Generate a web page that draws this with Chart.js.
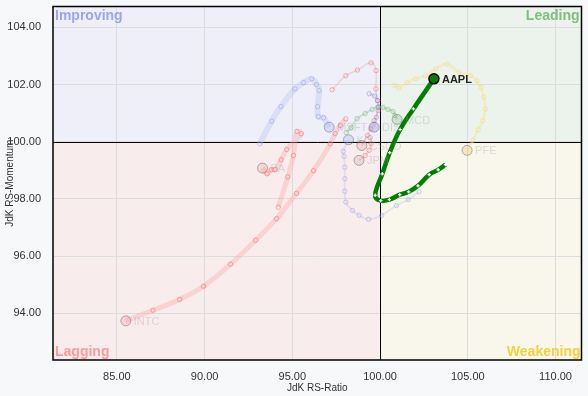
<!DOCTYPE html>
<html>
<head>
<meta charset="utf-8">
<script src="https://cdn.jsdelivr.net/npm/chart.js@4"></script>
<style>
  html, body { margin: 0; padding: 0; background: #f7f8fa; }
  #wrap { width: 588px; height: 396px; }
</style>
</head>
<body>
<div id="wrap"><canvas id="rrg" width="588" height="396"></canvas></div>
<script>
// tails, oldest point first, newest (head) last
const aaplRatio = [103.73, 103.31, 102.80, 102.16, 101.63, 101.12, 100.53, 100.04, 99.72, 100.13, 100.55, 101.14, 101.90, 103.07];
const aaplMomentum = [99.20, 99.02, 98.85, 98.46, 98.25, 98.15, 97.98, 97.94, 98.13, 98.88, 99.62, 100.43, 101.15, 102.20];

const intcRatio = [98.05, 97.73, 97.44, 97.16, 96.21, 95.24, 94.10, 92.91, 91.48, 89.94, 88.58, 87.06, 85.51];
const intcMomentum = [100.80, 100.57, 100.29, 99.93, 98.99, 98.20, 97.31, 96.56, 95.72, 94.95, 94.49, 94.11, 93.74];

const baRatio = [94.20, 94.74, 95.06, 95.26, 95.51, 94.68, 94.36, 94.03, 93.79, 93.56, 93.30];
const baMomentum = [97.71, 98.77, 99.52, 100.36, 100.28, 99.73, 99.37, 99.03, 99.02, 98.88, 99.08];

const msftRatio = [93.14, 93.82, 94.35, 95.15, 95.64, 96.10, 96.38, 96.53, 96.44, 96.48, 96.78, 97.10];
const msftMomentum = [99.93, 100.72, 101.23, 101.85, 102.07, 102.20, 102.00, 101.79, 101.23, 100.88, 100.84, 100.51];

const koRatio = [102.22, 101.61, 100.93, 100.09, 99.34, 98.81, 98.43, 98.05, 97.99, 97.99, 97.99, 97.95, 97.90, 98.20];
const koMomentum = [98.25, 97.98, 97.77, 97.43, 97.29, 97.43, 97.60, 97.89, 98.27, 98.71, 99.11, 99.49, 99.67, 100.07];

const disRatio = [99.38, 99.69, 99.85, 99.89, 99.79, 99.66];
const disMomentum = [101.68, 101.60, 101.44, 101.20, 100.86, 100.51];

const mcdRatio = [98.07, 98.35, 98.69, 99.15, 99.55, 99.89, 100.17, 100.45, 100.74, 100.85, 100.97];
const mcdMomentum = [100.32, 100.50, 100.81, 100.99, 101.13, 101.23, 101.20, 101.13, 101.06, 100.92, 100.78];

const cscoRatio = [97.27, 98.05, 98.71, 99.49, 99.77, 99.76, 99.86, 99.89, 99.66, 99.47, 99.28, 98.96];
const cscoMomentum = [101.82, 102.31, 102.51, 102.76, 102.49, 101.85, 101.44, 101.09, 100.74, 100.45, 100.22, 99.87];

const jpmRatio = [99.43, 99.49, 99.38, 99.15, 98.80];
const jpmMomentum = [100.15, 99.94, 99.70, 99.52, 99.35];

const pfeRatio = [100.80, 101.08, 101.53, 102.03, 102.60, 103.18, 103.82, 104.49, 105.15, 105.51, 105.74, 105.91, 106.00, 105.85, 105.59, 105.28, 104.96];
const pfeMomentum = [101.97, 101.88, 102.07, 102.20, 102.31, 102.56, 102.72, 102.43, 102.31, 102.14, 101.90, 101.56, 101.15, 100.74, 100.42, 100.05, 99.70];

const xTicks = [85, 90, 95, 100, 105, 110];
const yTicks = [94, 96, 98, 100, 102, 104];

const FONT = "'Liberation Sans', Arial, sans-serif";

function toPoints(xs, ys) {
  return xs.map((x, i) => ({ x: x, y: ys[i] }));
}

function fadedSeries(name, xs, ys, line, point, fill, width) {
  const last = xs.length - 1;
  return {
    label: name,
    data: toPoints(xs, ys),
    showLine: true,
    tension: 0.4,
    borderColor: line,
    borderWidth: width,
    pointStyle: "circle",
    pointRadius: (ctx) => (ctx.dataIndex === last ? 5 : 2.2),
    pointBorderWidth: 1,
    pointBorderColor: (ctx) => (ctx.dataIndex === last ? "rgba(90,90,110,0.45)" : point),
    pointBackgroundColor: (ctx) => (ctx.dataIndex === last ? fill : "rgba(0,0,0,0)"),
    order: 2,
  };
}

const blueLine = "rgba(175,185,240,0.3)";
const bluePoint = "rgba(130,140,235,0.4)";
const blueFill = "rgba(150,160,230,0.25)";
const redLine = "rgba(255,160,160,0.35)";
const redPoint = "rgba(240,90,90,0.45)";
const redFill = "rgba(230,140,140,0.25)";

const datasets = [
  {
    label: "AAPL",
    data: toPoints(aaplRatio, aaplMomentum),
    showLine: true,
    tension: 0.4,
    borderColor: "#008000",
    borderWidth: 4.5,
    pointStyle: (ctx) => (ctx.dataIndex === aaplRatio.length - 1 ? "circle" : "cross"),
    pointRadius: (ctx) => (ctx.dataIndex === aaplRatio.length - 1 ? 5 : 1.7),
    pointBorderWidth: (ctx) => (ctx.dataIndex === aaplRatio.length - 1 ? 1.5 : 1.2),
    pointBorderColor: (ctx) => (ctx.dataIndex === aaplRatio.length - 1 ? "#000" : "#fff"),
    pointBackgroundColor: "#008000",
    order: 0,
  },
  fadedSeries("INTC", intcRatio, intcMomentum, redLine, redPoint, redFill, 5),
  fadedSeries("BA", baRatio, baMomentum, redLine, redPoint, redFill, 5),
  fadedSeries("MSFT", msftRatio, msftMomentum, blueLine, bluePoint, blueFill, 6),
  fadedSeries("KO", koRatio, koMomentum, "rgba(180,190,240,0.3)", bluePoint, blueFill, 2),
  fadedSeries("DIS", disRatio, disMomentum, "rgba(160,160,230,0.3)", "rgba(130,120,220,0.45)", "rgba(140,130,220,0.3)", 2),
  fadedSeries("MCD", mcdRatio, mcdMomentum, "rgba(120,190,120,0.3)", "rgba(80,170,80,0.4)", "rgba(120,170,120,0.25)", 2),
  fadedSeries("CSCO", cscoRatio, cscoMomentum, "rgba(255,150,150,0.35)", redPoint, redFill, 1.5),
  fadedSeries("JPM", jpmRatio, jpmMomentum, "rgba(255,150,150,0.35)", redPoint, "rgba(200,150,150,0.25)", 1.5),
  fadedSeries("PFE", pfeRatio, pfeMomentum, "rgba(248,225,130,0.35)", "rgba(240,210,100,0.4)", "rgba(230,200,110,0.35)", 3),
];

const rrgPlugin = {
  id: "rrgQuadrants",
  beforeDraw(chart) {
    const { ctx, chartArea: a, scales } = chart;
    const cx = scales.x.getPixelForValue(100);
    const cy = scales.y.getPixelForValue(100);
    ctx.save();
    ctx.fillStyle = "#f7f8fa";
    ctx.fillRect(0, 0, chart.width, chart.height);
    ctx.fillStyle = "#eeeff8";
    ctx.fillRect(a.left, a.top, cx - a.left, cy - a.top);
    ctx.fillStyle = "#ecf3ec";
    ctx.fillRect(cx, a.top, a.right - cx, cy - a.top);
    ctx.fillStyle = "#f9ecec";
    ctx.fillRect(a.left, cy, cx - a.left, a.bottom - cy);
    ctx.fillStyle = "#f9f7ec";
    ctx.fillRect(cx, cy, a.right - cx, a.bottom - cy);
    ctx.restore();
  },
  beforeDatasetsDraw(chart) {
    const { ctx, chartArea: a, scales } = chart;
    const cx = Math.round(scales.x.getPixelForValue(100)) + 0.5;
    const cy = Math.round(scales.y.getPixelForValue(100)) + 0.5;
    ctx.save();
    ctx.font = "bold 14px " + FONT;
    ctx.textBaseline = "top";
    ctx.fillStyle = "#9ba5ee";
    ctx.textAlign = "left";
    ctx.fillText("Improving", a.left + 2, a.top + 3);
    ctx.fillStyle = "#7cc07c";
    ctx.textAlign = "right";
    ctx.fillText("Leading", a.right - 2, a.top + 3);
    ctx.textBaseline = "bottom";
    ctx.fillStyle = "#ff9a9a";
    ctx.textAlign = "left";
    ctx.fillText("Lagging", a.left + 2, a.bottom - 1);
    ctx.fillStyle = "#f6d03a";
    ctx.textAlign = "right";
    ctx.fillText("Weakening", a.right - 1, a.bottom - 1);

    ctx.strokeStyle = "#000";
    ctx.lineWidth = 1;
    ctx.beginPath();
    ctx.moveTo(cx, a.top);
    ctx.lineTo(cx, a.bottom);
    ctx.moveTo(a.left, cy);
    ctx.lineTo(a.right, cy);
    ctx.stroke();
    ctx.restore();
  },
  afterDatasetsDraw(chart) {
    const { ctx } = chart;
    ctx.save();
    ctx.textBaseline = "middle";
    ctx.textAlign = "left";
    chart.data.datasets.forEach((ds, i) => {
      const meta = chart.getDatasetMeta(i);
      const head = meta.data[meta.data.length - 1];
      if (ds.label === "AAPL") {
        ctx.font = "bold 11px " + FONT;
        ctx.fillStyle = "#222";
      } else {
        ctx.font = "11px " + FONT;
        ctx.fillStyle = "rgba(150,150,150,0.3)";
      }
      ctx.fillText(ds.label, head.x + 8, head.y + 1);
    });
    ctx.restore();
  },
  afterDraw(chart) {
    const { ctx, chartArea: a } = chart;
    ctx.save();
    ctx.strokeStyle = "#000";
    ctx.lineWidth = 1.5;
    ctx.strokeRect(a.left, a.top, a.right - a.left, a.bottom - a.top);
    ctx.restore();
  },
};

const chart = new Chart(document.getElementById("rrg"), {
  type: "scatter",
  data: { datasets: datasets },
  options: {
    responsive: false,
    devicePixelRatio: 1,
    animation: false,
    layout: { padding: { top: 5, right: 5, left: 0, bottom: 0 } },
    plugins: {
      legend: { display: false },
      tooltip: { enabled: false },
    },
    scales: {
      x: {
        type: "linear",
        min: 81.36,
        max: 111.48,
        afterBuildTicks: (s) => { s.ticks = xTicks.map((v) => ({ value: v })); },
        afterFit: (s) => { s.height = 36; s.paddingLeft = 0; s.paddingRight = 0; },
        ticks: {
          callback: (v) => v.toFixed(2),
          padding: 10,
          color: "#333",
          font: { size: 11, family: FONT },
        },
        grid: { color: "#dcdcdc", drawTicks: false },
        border: { display: false },
        title: {
          display: true,
          text: "JdK RS-Ratio",
          color: "#333",
          font: { size: 10, family: FONT },
          padding: { top: 0, bottom: 2 },
        },
      },
      y: {
        type: "linear",
        min: 92.37,
        max: 104.73,
        afterBuildTicks: (s) => { s.ticks = yTicks.map((v) => ({ value: v })); },
        afterFit: (s) => { s.width = 53; s.paddingTop = 0; s.paddingBottom = 0; },
        ticks: {
          callback: (v) => v.toFixed(2),
          padding: 12,
          color: "#333",
          font: { size: 11, family: FONT },
        },
        grid: { color: "#dcdcdc", drawTicks: false },
        border: { display: false },
        title: {
          display: true,
          text: "JdK RS-Momentum",
          color: "#333",
          font: { size: 10, family: FONT },
          padding: { top: 4, bottom: 0 },
        },
      },
    },
  },
  plugins: [rrgPlugin],
});
</script>
</body>
</html>
